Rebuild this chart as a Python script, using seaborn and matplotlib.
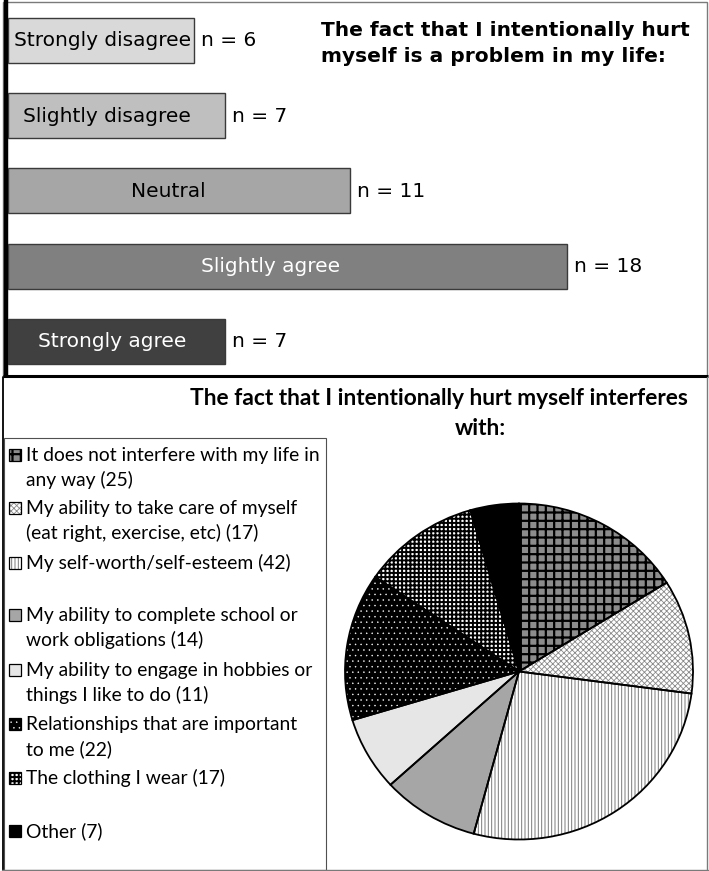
import matplotlib
matplotlib.use("Agg")
import matplotlib.pyplot as plt
import seaborn as sns
from matplotlib.patches import Rectangle

# ---------------- data ----------------
responses = ["Strongly disagree", "Slightly disagree", "Neutral", "Slightly agree", "Strongly agree"]
counts = [6, 7, 11, 18, 7]
bar_colors = ["#d9d9d9", "#bfbfbf", "#a6a6a6", "#808080", "#404040"]
bar_text_colors = ["black", "black", "black", "white", "white"]
label_anchor = [0.51, 0.455, 0.468, 0.469, 0.48]   # label centre as fraction of bar length

top_title = "The fact that I intentionally hurt\nmyself is a problem in my life:"
bottom_title_1 = "The fact that I intentionally hurt myself interferes"
bottom_title_2 = "with:"

interf_labels = [
    "It does not interfere with my life in\nany way (25)",
    "My ability to take care of myself\n(eat right, exercise, etc) (17)",
    "My self-worth/self-esteem (42)",
    "My ability to complete school or\nwork obligations (14)",
    "My ability to engage in hobbies or\nthings I like to do (11)",
    "Relationships that are important\nto me (22)",
    "The clothing I wear (17)",
    "Other (7)",
]
interf_counts = [25, 17, 42, 14, 11, 22, 17, 7]
pie_faces = ["#8c8c8c", "white", "white", "#a6a6a6", "#e6e6e6", "black", "white", "black"]
pie_hatches = ["++", "xxxxxx", "|||||", None, None, "...", "++++", None]
pie_hatch_colors = ["black", "#8a8a8a", "#7a7a7a", "#a6a6a6", "#e6e6e6", "white", "black", "black"]
pie_hatch_lw = [1.6, 0.6, 0.7, 1.0, 1.0, 0.3, 1.4, 1.0]

# legend first-line y positions (pixels from top)
legend_y = [455, 508, 563, 615, 670, 724, 778, 831]

W, H = 709, 871
sns.set_theme(style="white")
plt.rcParams["font.family"] = ["DejaVu Sans"]
plt.rcParams["text.color"] = "black"

fig = plt.figure(figsize=(W / 100, H / 100), dpi=100)
fig.patch.set_facecolor("white")

# overlay axes in pixel coordinates
ov = fig.add_axes([0, 0, 1, 1])
ov.set_xlim(0, W)
ov.set_ylim(H, 0)
ov.axis("off")

# panel frames
ov.add_patch(Rectangle((3, 2), 704, 374, fill=False, edgecolor="#7a7a7a", lw=1.0))
ov.plot([6, 6], [0, 377], color="black", lw=3.2, solid_capstyle="butt")
ov.plot([3, 708], [376, 376], color="black", lw=2.2, solid_capstyle="butt")
ov.plot([2.5, 2.5], [377, 870], color="black", lw=1.3)
ov.plot([707, 707], [377, 870], color="#7a7a7a", lw=1.0)
ov.plot([2, 708], [869.5, 869.5], color="#7a7a7a", lw=1.0)
# legend box
ov.add_patch(Rectangle((4, 438), 322, 432, fill=False, edgecolor="#505050", lw=0.8))

# ---------------- bar chart ----------------
px_per_unit = 31.05
ax = fig.add_axes([8 / W, (H - 376) / H, (W - 8) / W, 376 / H])
ax.patch.set_alpha(0)
sns.barplot(x=counts, y=responses, hue=responses, palette=bar_colors, legend=False,
            width=0.6, edgecolor="#3a3a3a", linewidth=1.0, orient="h", ax=ax)
ax.set_xlim(0, (W - 8) / px_per_unit)
ax.set_ylim(4 + 35 / 75, -41 / 75)
ax.axis("off")
for i, (v, lab, tc, fr) in enumerate(zip(counts, responses, bar_text_colors, label_anchor)):
    ax.text(v * fr, i, lab, ha="center", va="center", fontsize=14.5, color=tc)
    ax.text(v + 7 / px_per_unit, i, f"n = {v}", ha="left", va="center", fontsize=14.5, color="black")

ov.text(321, 30, top_title.split("\n")[0], ha="left", va="center", fontsize=14.5,
        fontweight="bold", color="black")
ov.text(321, 57, top_title.split("\n")[1], ha="left", va="center", fontsize=14.5,
        fontweight="bold", color="black")

# ---------------- pie chart ----------------
ov.text(439, 398, bottom_title_1, ha="center", va="center", fontsize=16.4, fontweight="bold",
        family="Lato", color="black")
ov.text(480, 428, bottom_title_2, ha="center", va="center", fontsize=16.4, fontweight="bold",
        family="Lato", color="black")

cx, cy, rx, ry = 519, 671.5, 174, 168
pax = fig.add_axes([(cx - rx) / W, (H - cy - ry) / H, 2 * rx / W, 2 * ry / H])
pax.patch.set_alpha(0)
wedges, _ = pax.pie(interf_counts, startangle=90, counterclock=False, colors=pie_faces,
                    wedgeprops=dict(linewidth=0))
for w, h, hc, hlw in zip(wedges, pie_hatches, pie_hatch_colors, pie_hatch_lw):
    w.set_edgecolor(hc)
    w.set_linewidth(0)
    if h:
        w.set_hatch(h)
        if hasattr(w, "set_hatch_linewidth"):
            w.set_hatch_linewidth(hlw)
outl, _ = pax.pie(interf_counts, startangle=90, counterclock=False,
                  wedgeprops=dict(facecolor="none", edgecolor="black", linewidth=1.3))
for w in outl:
    w.set_facecolor("none")
    w.set_clip_on(False)
pax.set_xlim(-1, 1)
pax.set_ylim(-1, 1)
pax.set_aspect("auto")
pax.axis("off")

# ---------------- legend ----------------
for lab, y, fc, h, hc, hlw in zip(interf_labels, legend_y, pie_faces, pie_hatches, pie_hatch_colors, pie_hatch_lw):
    sq = Rectangle((9, y - 6), 12, 12, facecolor=fc, edgecolor=hc, lw=0)
    if h:
        sq.set_hatch(h)
        if hasattr(sq, "set_hatch_linewidth"):
            sq.set_hatch_linewidth(hlw)
    ov.add_patch(sq)
    ov.add_patch(Rectangle((9, y - 6), 12, 12, fill=False, edgecolor="black", lw=0.9))
    for k, line in enumerate(lab.split("\n")):
        ov.text(26, y + 25 * k, line, ha="left", va="center", fontsize=13.9, family="Lato",
                color="black")

fig.savefig("out.png", dpi=100, facecolor="white")
